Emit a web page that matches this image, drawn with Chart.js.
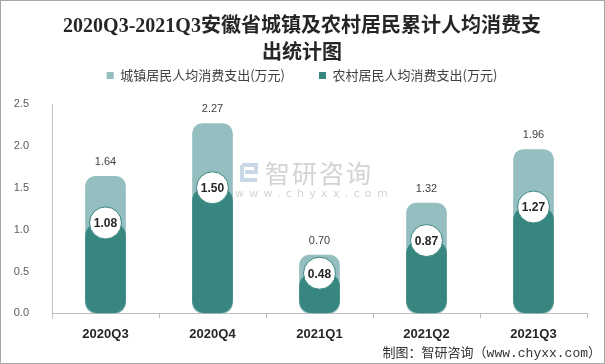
<!DOCTYPE html>
<html>
<head>
<meta charset="utf-8">
<script src="https://cdn.jsdelivr.net/npm/chart.js@4"></script>
<style>
  html, body { margin: 0; padding: 0; background: #fff; }
  #box { width: 605px; height: 364px; box-sizing: border-box; border: 1px solid #a6a6a6; position: relative; }
</style>
</head>
<body>
<div id="box"><canvas id="c"></canvas></div>
<script>
// 数据
const quarters = ['2020Q3', '2020Q4', '2021Q1', '2021Q2', '2021Q3'];
const urbanSpend = [1.64, 2.27, 0.70, 1.32, 1.96];   // 城镇居民人均消费支出(万元)
const ruralSpend = [1.08, 1.50, 0.48, 0.87, 1.27];   // 农村居民人均消费支出(万元)
const yTicks = [0, 0.5, 1, 1.5, 2, 2.5];

const titleLines = ['2020Q3-2021Q3安徽省城镇及农村居民累计人均消费支', '出统计图'];
const footText = '制图：智研咨询（www.chyxx.com）';

const LIGHT = '#94bec0', DARK = '#388680';
const CJK = '"Noto Sans CJK SC", sans-serif';

// 标签、水印、脚注
const decor = {
    id: 'decor',
    beforeDatasetsDraw(chart) {
        const ctx = chart.ctx;
        ctx.save();
        // 水印图标（粗略）
        ctx.strokeStyle = '#c9d8e6';
        ctx.lineWidth = 4;
        ctx.beginPath();
        ctx.moveTo(241, 164); ctx.lineTo(255, 164); ctx.lineTo(255, 171); ctx.lineTo(244, 171);
        ctx.moveTo(241, 164); ctx.lineTo(241, 179); ctx.lineTo(256, 179);
        ctx.stroke();
        ctx.fillStyle = '#d3d3d3';
        ctx.font = '25px ' + CJK;
        ctx.textBaseline = 'middle';
        ctx.textAlign = 'left';
        ctx.letterSpacing = '2px';
        ctx.fillText('智研咨询', 264, 172);
        ctx.font = '11px "DejaVu Sans", sans-serif';
        ctx.letterSpacing = '5.3px';
        ctx.fillText('www.chyxx.com', 234, 193);
        ctx.restore();
    },
    afterDatasetsDraw(chart) {
        const ctx = chart.ctx;
        ctx.save();
        ctx.textAlign = 'center';
        ctx.textBaseline = 'middle';
        chart.getDatasetMeta(1).data.forEach((bar, i) => {
            ctx.fillStyle = '#404040';
            ctx.font = '11px "Liberation Sans", sans-serif';
            ctx.fillText(urbanSpend[i].toFixed(2), bar.x, bar.y - 14);
        });
        chart.getDatasetMeta(2).data.forEach((pt, i) => {
            ctx.fillStyle = '#262626';
            ctx.font = 'bold 12px "Liberation Sans", sans-serif';
            ctx.fillText(ruralSpend[i].toFixed(2), pt.x, pt.y + 1);
        });
        ctx.restore();
    },
    afterDraw(chart) {
        const ctx = chart.ctx;
        ctx.save();
        ctx.fillStyle = '#333';
        ctx.font = '13px "Liberation Mono", ' + CJK;
        ctx.textAlign = 'right';
        ctx.textBaseline = 'middle';
        ctx.fillText(footText, 600, 353);
        ctx.restore();
    }
};

new Chart(document.getElementById('c'), {
    type: 'bar',
    data: {
        labels: quarters,
        datasets: [
            { label: '农村居民人均消费支出(万元)', data: ruralSpend, backgroundColor: DARK, order: 0,
              grouped: false, borderRadius: 13, borderSkipped: false },
            { label: '城镇居民人均消费支出(万元)', data: urbanSpend, backgroundColor: LIGHT, order: 1,
              grouped: false, borderRadius: 10, borderSkipped: false },
            { type: 'line', label: 'circle', data: ruralSpend, order: -1, showLine: false,
              pointRadius: 16, pointHoverRadius: 16, pointBackgroundColor: '#fff',
              pointBorderColor: DARK, pointBorderWidth: 1 }
        ]
    },
    options: {
        responsive: true,
        maintainAspectRatio: false,
        animation: false,
        events: [],
        categoryPercentage: 1,
        barPercentage: 0.38,
        layout: { padding: { left: 0, right: 1, top: 0, bottom: 13 } },
        plugins: {
            tooltip: { enabled: false },
            title: {
                display: true,
                text: titleLines,
                color: '#262626',
                font: { family: '"Liberation Serif", "Noto Sans CJK SC", serif', size: 20, weight: 'bold', lineHeight: 1.35 },
                padding: { top: 12.5, bottom: -32.5 }
            },
            // 图例与绘图区之间的留白
            subtitle: {
                display: true,
                text: '',
                weight: 500,
                font: { size: 1, lineHeight: 1 },
                padding: { top: 0, bottom: 11 }
            },
            legend: {
                reverse: true,
                labels: {
                    filter: item => item.datasetIndex !== 2,
                    boxWidth: 7, boxHeight: 7,
                    padding: 34,
                    color: '#404040',
                    font: { family: CJK, size: 13 }
                }
            }
        },
        scales: {
            x: {
                grid: { drawOnChartArea: false, drawTicks: true, tickLength: 5, color: '#bfbfbf', offset: true },
                border: { color: '#bfbfbf' },
                ticks: { color: '#262626', padding: 8, font: { family: '"Liberation Sans", sans-serif', size: 13, weight: 'bold' } }
            },
            y: {
                min: 0, max: 2.5,
                afterFit: s => { s.width = 51; },
                afterBuildTicks: s => { s.ticks = yTicks.map(v => ({ value: v })); },
                grid: { display: false },
                border: { color: '#bfbfbf' },
                ticks: { color: '#595959', padding: 15, font: { family: '"Liberation Sans", sans-serif', size: 11 },
                         callback: v => v.toFixed(1) }
            }
        }
    },
    plugins: [decor]
});
</script>
</body>
</html>
